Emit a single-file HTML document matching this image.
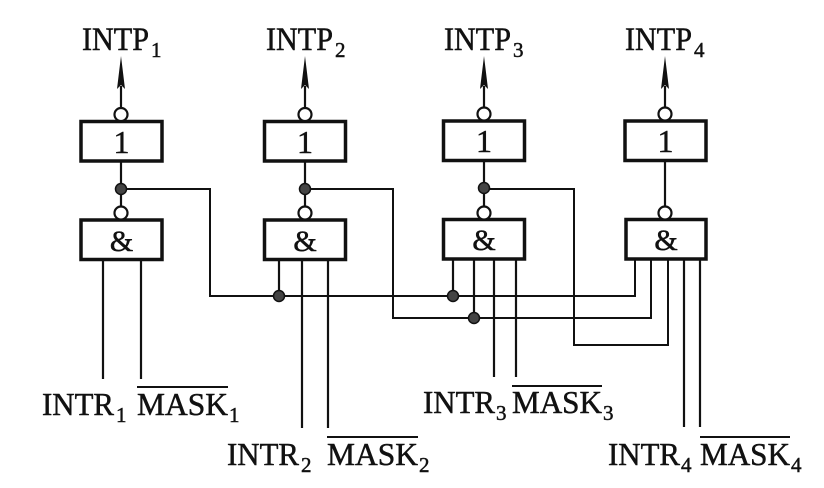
<!DOCTYPE html>
<html><head><meta charset="utf-8"><style>
html,body{margin:0;padding:0;background:#fff;}
svg{display:block;}
text{font-family:"Liberation Serif",serif;fill:#111;stroke:#111;stroke-width:0.5;}
</style></head><body>
<svg width="824" height="488" viewBox="0 0 824 488" xmlns="http://www.w3.org/2000/svg">
<g stroke="#111" fill="none" stroke-width="2.2">
  <!-- gate 1 -->
  <rect x="81" y="121.5" width="81" height="39.5" stroke-width="3.5"/>
  <rect x="81" y="220" width="81" height="39.5" stroke-width="3.5"/>
  <line x1="121" y1="107" x2="121" y2="86"/>
  <line x1="121" y1="161" x2="121" y2="207"/>
  <!-- gate 2 -->
  <rect x="264.5" y="121.5" width="81" height="39.5" stroke-width="3.5"/>
  <rect x="264.5" y="220" width="81" height="39.5" stroke-width="3.5"/>
  <line x1="305" y1="107" x2="305" y2="86"/>
  <line x1="305" y1="161" x2="305" y2="207"/>
  <!-- gate 3 -->
  <rect x="443.5" y="121" width="81" height="39.5" stroke-width="3.5"/>
  <rect x="443.5" y="219.5" width="81" height="39.5" stroke-width="3.5"/>
  <line x1="484" y1="107" x2="484" y2="86"/>
  <line x1="484" y1="161" x2="484" y2="207"/>
  <!-- gate 4 -->
  <rect x="625" y="121" width="81" height="39.5" stroke-width="3.5"/>
  <rect x="626" y="219.5" width="80" height="39.5" stroke-width="3.5"/>
  <line x1="665" y1="107" x2="665" y2="86"/>
  <line x1="665" y1="161" x2="665" y2="207"/>

  <!-- feedback wires -->
  <polyline points="121,189 210,189 210,296 635,296 635,260" stroke-width="2"/>
  <polyline points="305,189 393,189 393,318 651,318 651,260" stroke-width="2"/>
  <polyline points="484,189 574,189 574,345 668,345 668,260" stroke-width="2"/>

  <!-- gate1 inputs -->
  <line x1="103" y1="260" x2="103" y2="379"/>
  <line x1="141" y1="260" x2="141" y2="379"/>
  <!-- gate2 inputs -->
  <line x1="279" y1="260" x2="279" y2="296"/>
  <line x1="302" y1="260" x2="302" y2="428"/>
  <line x1="328" y1="260" x2="328" y2="428"/>
  <!-- gate3 inputs -->
  <line x1="453" y1="260" x2="453" y2="296"/>
  <line x1="474" y1="260" x2="474" y2="318"/>
  <line x1="494" y1="260" x2="494" y2="377"/>
  <line x1="516" y1="260" x2="516" y2="377"/>
  <!-- gate4 inputs -->
  <line x1="684" y1="260" x2="684" y2="427"/>
  <line x1="700" y1="260" x2="700" y2="427"/>

  <!-- inversion circles -->
  <g fill="#fff">
    <circle cx="121" cy="114.5" r="6.5"/>
    <circle cx="121" cy="213" r="6.5"/>
    <circle cx="305" cy="114.5" r="6.5"/>
    <circle cx="305" cy="213" r="6.5"/>
    <circle cx="484" cy="114" r="6.5"/>
    <circle cx="484" cy="213" r="6.5"/>
    <circle cx="665" cy="114" r="6.5"/>
    <circle cx="665" cy="213" r="6.5"/>
  </g>
  <!-- junction dots -->
  <g fill="#444" stroke-width="1.5">
    <circle cx="121" cy="189" r="5.5"/>
    <circle cx="305" cy="189" r="5.5"/>
    <circle cx="484" cy="188" r="5.5"/>
    <circle cx="279" cy="296" r="5.5"/>
    <circle cx="453" cy="296" r="5.5"/>
    <circle cx="474" cy="318" r="5.5"/>
  </g>
  <!-- overlines -->
  <line x1="137" y1="387" x2="228" y2="387" stroke-width="2"/>
  <line x1="327" y1="437" x2="418" y2="437" stroke-width="2"/>
  <line x1="512" y1="386" x2="602" y2="386" stroke-width="2"/>
  <line x1="700" y1="437" x2="790" y2="437" stroke-width="2"/>
</g>
<!-- arrowheads -->
<g fill="#111">
  <polygon points="121,56 117,89 121,85 125,89"/>
  <polygon points="305,56 301,89 305,85 309,89"/>
  <polygon points="484,56 480,89 484,85 488,89"/>
  <polygon points="665,56 661,89 665,85 669,89"/>
</g>
<!-- gate symbols -->
<g text-anchor="middle">
  <text x="121.5" y="153" font-size="32">1</text>
  <text x="305" y="153" font-size="32">1</text>
  <text x="484" y="152" font-size="32">1</text>
  <text x="665.5" y="152" font-size="32">1</text>
  <text x="121.5" y="251" font-size="30">&amp;</text>
  <text x="305" y="251" font-size="30">&amp;</text>
  <text x="484" y="250" font-size="30">&amp;</text>
  <text x="666" y="250" font-size="30">&amp;</text>
</g>
<!-- INTP labels -->
<g font-size="33">
  <text x="82" y="50" textLength="67" lengthAdjust="spacingAndGlyphs">INTP</text>
  <text x="266" y="50" textLength="67" lengthAdjust="spacingAndGlyphs">INTP</text>
  <text x="444" y="50" textLength="67" lengthAdjust="spacingAndGlyphs">INTP</text>
  <text x="625" y="50" textLength="67" lengthAdjust="spacingAndGlyphs">INTP</text>
</g>
<g font-size="21">
  <text x="151" y="57">1</text>
  <text x="335" y="57">2</text>
  <text x="513" y="57">3</text>
  <text x="694" y="57">4</text>
</g>
<!-- bottom labels -->
<g font-size="32">
  <text x="42" y="415" textLength="72" lengthAdjust="spacingAndGlyphs">INTR</text>
  <text x="137" y="415" textLength="91" lengthAdjust="spacingAndGlyphs">MASK</text>
  <text x="227" y="465" textLength="72" lengthAdjust="spacingAndGlyphs">INTR</text>
  <text x="327" y="465" textLength="91" lengthAdjust="spacingAndGlyphs">MASK</text>
  <text x="423" y="413" textLength="72" lengthAdjust="spacingAndGlyphs">INTR</text>
  <text x="512" y="413" textLength="90" lengthAdjust="spacingAndGlyphs">MASK</text>
  <text x="608" y="465" textLength="72" lengthAdjust="spacingAndGlyphs">INTR</text>
  <text x="700" y="465" textLength="90" lengthAdjust="spacingAndGlyphs">MASK</text>
</g>
<g font-size="21">
  <text x="116" y="422">1</text>
  <text x="229" y="422">1</text>
  <text x="301" y="472">2</text>
  <text x="419" y="472">2</text>
  <text x="496" y="420">3</text>
  <text x="603" y="420">3</text>
  <text x="681" y="472">4</text>
  <text x="791" y="472">4</text>
</g>
</svg>
</body></html>
